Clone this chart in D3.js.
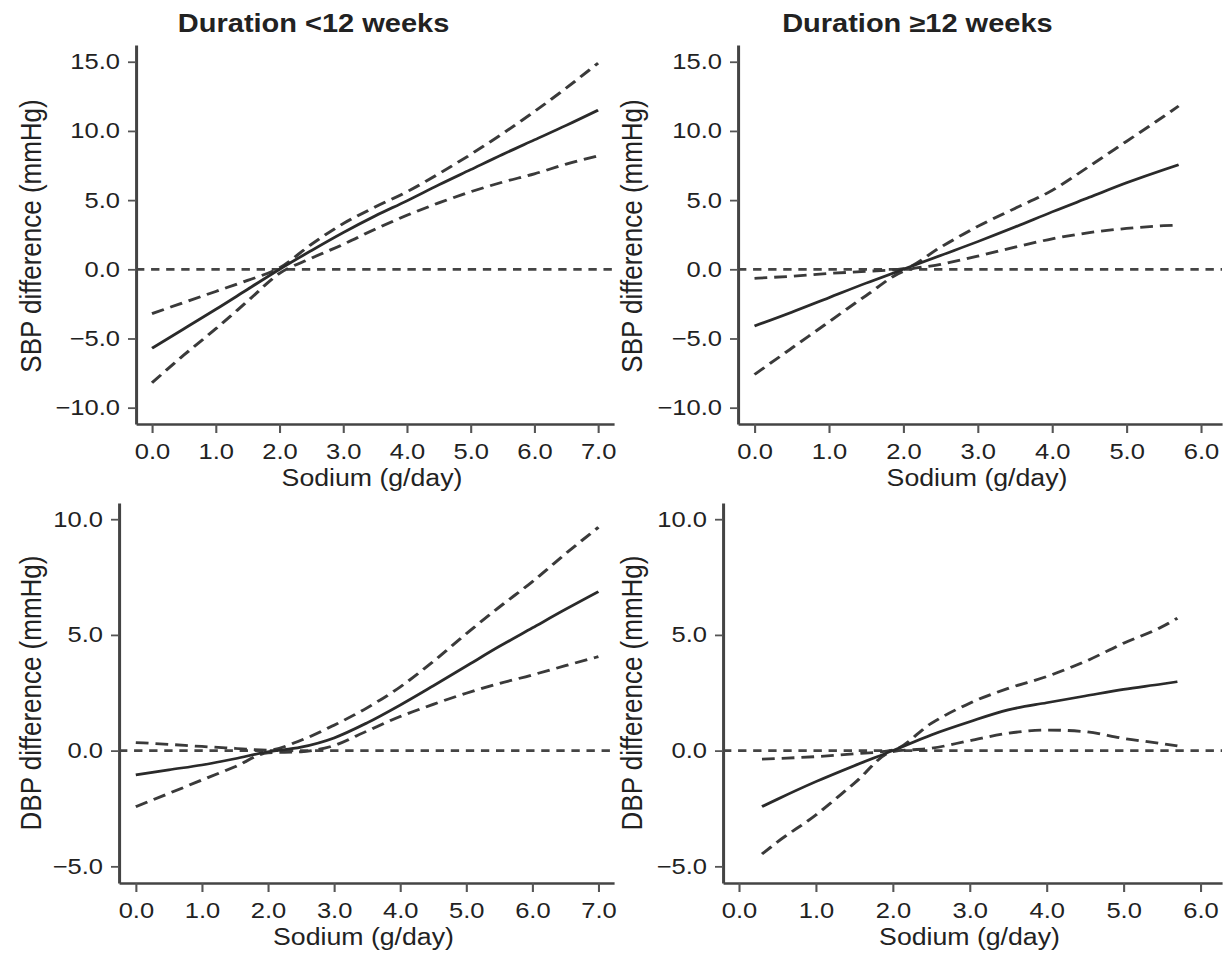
<!DOCTYPE html>
<html>
<head>
<meta charset="utf-8">
<script src="https://cdn.jsdelivr.net/npm/d3@7"></script>
<style>
  body { margin: 0; background: #fff; }
  svg { display: block; }
</style>
</head>
<body>
<div class="canvas"></div>
<script>
// sodium intake (g/day) where the curves were read
var sodiumShort = [0, 0.5, 1, 1.5, 2, 2.5, 3, 3.5, 4, 4.5, 5, 5.5, 6, 6.5, 7];
var sodiumLong = [0, 0.5, 1, 1.5, 2, 2.5, 3, 3.5, 4, 4.5, 5, 5.5, 5.7];
var sodiumLongDbp = [0.3, 0.5, 1, 1.5, 2, 2.5, 3, 3.5, 4, 4.5, 5, 5.5, 5.7];

// SBP, duration <12 weeks
var sbpShortFit = [-5.7, -4.3, -2.9, -1.45, 0, 1.35, 2.65, 3.85, 4.95, 6.1, 7.2, 8.3, 9.35, 10.4, 11.5];
var sbpShortUpper = [-3.2, -2.4, -1.6, -0.8, 0.1, 1.8, 3.3, 4.5, 5.6, 6.9, 8.3, 9.8, 11.4, 13.1, 14.9];
var sbpShortLower = [-8.2, -6.2, -4.3, -2.3, -0.3, 0.8, 1.8, 2.9, 3.9, 4.8, 5.6, 6.3, 6.9, 7.6, 8.2];

// SBP, duration >=12 weeks
var sbpLongFit = [-4.1, -3.1, -2.05, -1.0, 0, 1.0, 2.0, 3.05, 4.15, 5.2, 6.25, 7.2, 7.55];
var sbpLongUpper = [-0.65, -0.5, -0.3, -0.15, 0.05, 1.6, 3.1, 4.4, 5.7, 7.45, 9.25, 11.05, 11.8];
var sbpLongLower = [-7.6, -5.7, -3.8, -1.9, -0.15, 0.35, 0.95, 1.6, 2.2, 2.65, 2.95, 3.15, 3.2];

// DBP, duration <12 weeks
var dbpShortFit = [-1.05, -0.83, -0.62, -0.35, -0.05, 0.15, 0.55, 1.2, 1.97, 2.8, 3.65, 4.5, 5.3, 6.1, 6.87];
var dbpShortUpper = [0.35, 0.27, 0.18, 0.1, 0.02, 0.45, 1.1, 1.85, 2.75, 3.85, 5.05, 6.2, 7.3, 8.5, 9.65];
var dbpShortLower = [-2.42, -1.85, -1.27, -0.7, -0.1, -0.05, 0.22, 0.85, 1.47, 2.0, 2.48, 2.9, 3.27, 3.67, 4.06];

// DBP, duration >=12 weeks
var dbpLongFit = [-2.42, -2.1, -1.34, -0.65, 0, 0.68, 1.25, 1.76, 2.07, 2.36, 2.65, 2.88, 2.98];
var dbpLongUpper = [-0.37, -0.34, -0.26, -0.14, 0.02, 1.18, 2.05, 2.69, 3.2, 3.85, 4.64, 5.35, 5.72];
var dbpLongLower = [-4.47, -3.95, -2.78, -1.41, -0.04, 0.1, 0.43, 0.75, 0.89, 0.82, 0.53, 0.3, 0.2];

var xTicksShort = [0, 1, 2, 3, 4, 5, 6, 7];
var xTicksLong = [0, 1, 2, 3, 4, 5, 6];
var yTicksSbp = [-10, -5, 0, 5, 10, 15];
var yTicksDbp = [-5, 0, 5, 10];

var columnTitles = ["Duration <12 weeks", "Duration \u226512 weeks"];
var xTitle = "Sodium (g/day)";
var yTitles = ["SBP difference (mmHg)", "DBP difference (mmHg)"];

// the picture is a bit wider than tall, so everything is drawn in a
// narrower box and stretched sideways
var S = 1.16;
var W = 1224, H = 956;
function vx(px) { return px / S; }

var ink = "#222";
var fmt = d3.format(".1f");

var panels = [
    { col: 0, row: 0, left: 136, right: 614, top: 45, bottom: 424, xDom: [-0.251, 7.25], yDom: [-11.18, 16.21],
      xs: sodiumShort, fit: sbpShortFit, up: sbpShortUpper, lo: sbpShortLower, xTicks: xTicksShort, yTicks: yTicksSbp },
    { col: 1, row: 0, left: 738, right: 1222, top: 45, bottom: 424, xDom: [-0.222, 6.283], yDom: [-11.18, 16.21],
      xs: sodiumLong, fit: sbpLongFit, up: sbpLongUpper, lo: sbpLongLower, xTicks: xTicksLong, yTicks: yTicksSbp },
    { col: 0, row: 1, left: 119, right: 614, top: 503, bottom: 883, xDom: [-0.254, 7.236], yDom: [-5.72, 10.70],
      xs: sodiumShort, fit: dbpShortFit, up: dbpShortUpper, lo: dbpShortLower, xTicks: xTicksShort, yTicks: yTicksDbp },
    { col: 1, row: 1, left: 723, right: 1222, top: 503, bottom: 883, xDom: [-0.207, 6.28], yDom: [-5.72, 10.70],
      xs: sodiumLongDbp, fit: dbpLongFit, up: dbpLongUpper, lo: dbpLongLower, xTicks: xTicksLong, yTicks: yTicksDbp }
];

var yTitleX = [30, 631];
var yTitleY = [236, 693];
var titleX = [313.6, 917.4];

var svg = d3.select(".canvas").append("svg")
    .attr("width", W)
    .attr("height", H)
    .attr("viewBox", "0 0 " + vx(W) + " " + H)
    .attr("preserveAspectRatio", "none")
    .style("font-family", "'Liberation Sans', Arial, Helvetica, sans-serif");

svg.append("rect").attr("width", vx(W)).attr("height", H).attr("fill", "#fff");

// column titles
columnTitles.forEach(function (t, i) {
    svg.append("text")
        .attr("x", vx(titleX[i]))
        .attr("y", 32)
        .attr("text-anchor", "middle")
        .attr("font-size", 25)
        .attr("font-weight", "bold")
        .attr("fill", ink)
        .text(t);
});

panels.forEach(function (p) {
    var x = d3.scaleLinear().domain(p.xDom).range([vx(p.left), vx(p.right)]);
    var y = d3.scaleLinear().domain(p.yDom).range([p.bottom, p.top]);

    var g = svg.append("g");

    // x axis
    var gx = g.append("g")
        .attr("transform", "translate(0," + p.bottom + ")")
        .call(d3.axisBottom(x).tickValues(p.xTicks).tickFormat(fmt)
            .tickSizeInner(9).tickSizeOuter(0).tickPadding(10));

    // y axis
    var gy = g.append("g")
        .attr("transform", "translate(" + vx(p.left) + ",0)")
        .call(d3.axisLeft(y).tickValues(p.yTicks).tickFormat(fmt)
            .tickSizeInner(vx(8)).tickSizeOuter(0).tickPadding(vx(8)));

    [gx, gy].forEach(function (a) {
        a.attr("font-size", 22).attr("font-family", null);
        a.select(".domain").attr("stroke", "#444").attr("stroke-width", 2.6);
        a.selectAll(".tick line").attr("stroke", "#555").attr("stroke-width", 1.8);
        a.selectAll(".tick text").attr("fill", ink);
    });

    // reference line at zero
    g.append("line")
        .attr("x1", vx(p.left)).attr("x2", vx(p.right))
        .attr("y1", y(0)).attr("y2", y(0))
        .attr("stroke", "#444")
        .attr("stroke-width", 2.8)
        .attr("stroke-dasharray", "7.2,5.8");

    var line = d3.line()
        .x(function (d) { return x(d[0]); })
        .y(function (d) { return y(d[1]); })
        .curve(d3.curveMonotoneX);

    function pairs(vals) { return p.xs.map(function (v, i) { return [v, vals[i]]; }); }

    [p.up, p.lo].forEach(function (vals) {
        g.append("path")
            .datum(pairs(vals))
            .attr("fill", "none")
            .attr("stroke", "#3a3a3a")
            .attr("stroke-width", 2.8)
            .attr("stroke-dasharray", "11,6")
            .attr("d", line);
    });

    g.append("path")
        .datum(pairs(p.fit))
        .attr("fill", "none")
        .attr("stroke", "#2a2a2a")
        .attr("stroke-width", 2.7)
        .attr("d", line);

    // axis titles
    g.append("text")
        .attr("x", vx((p.left + p.right) / 2 - 3))
        .attr("y", p.bottom + 62)
        .attr("text-anchor", "middle")
        .attr("font-size", 23)
        .attr("fill", ink)
        .text(xTitle);

    g.append("text")
        .attr("transform", "translate(" + vx(yTitleX[p.col]) + "," + yTitleY[p.row] + ") rotate(-90)")
        .attr("text-anchor", "middle")
        .attr("dy", "0.35em")
        .attr("font-size", 26)
        .attr("fill", ink)
        .text(yTitles[p.row]);
});
</script>
</body>
</html>
